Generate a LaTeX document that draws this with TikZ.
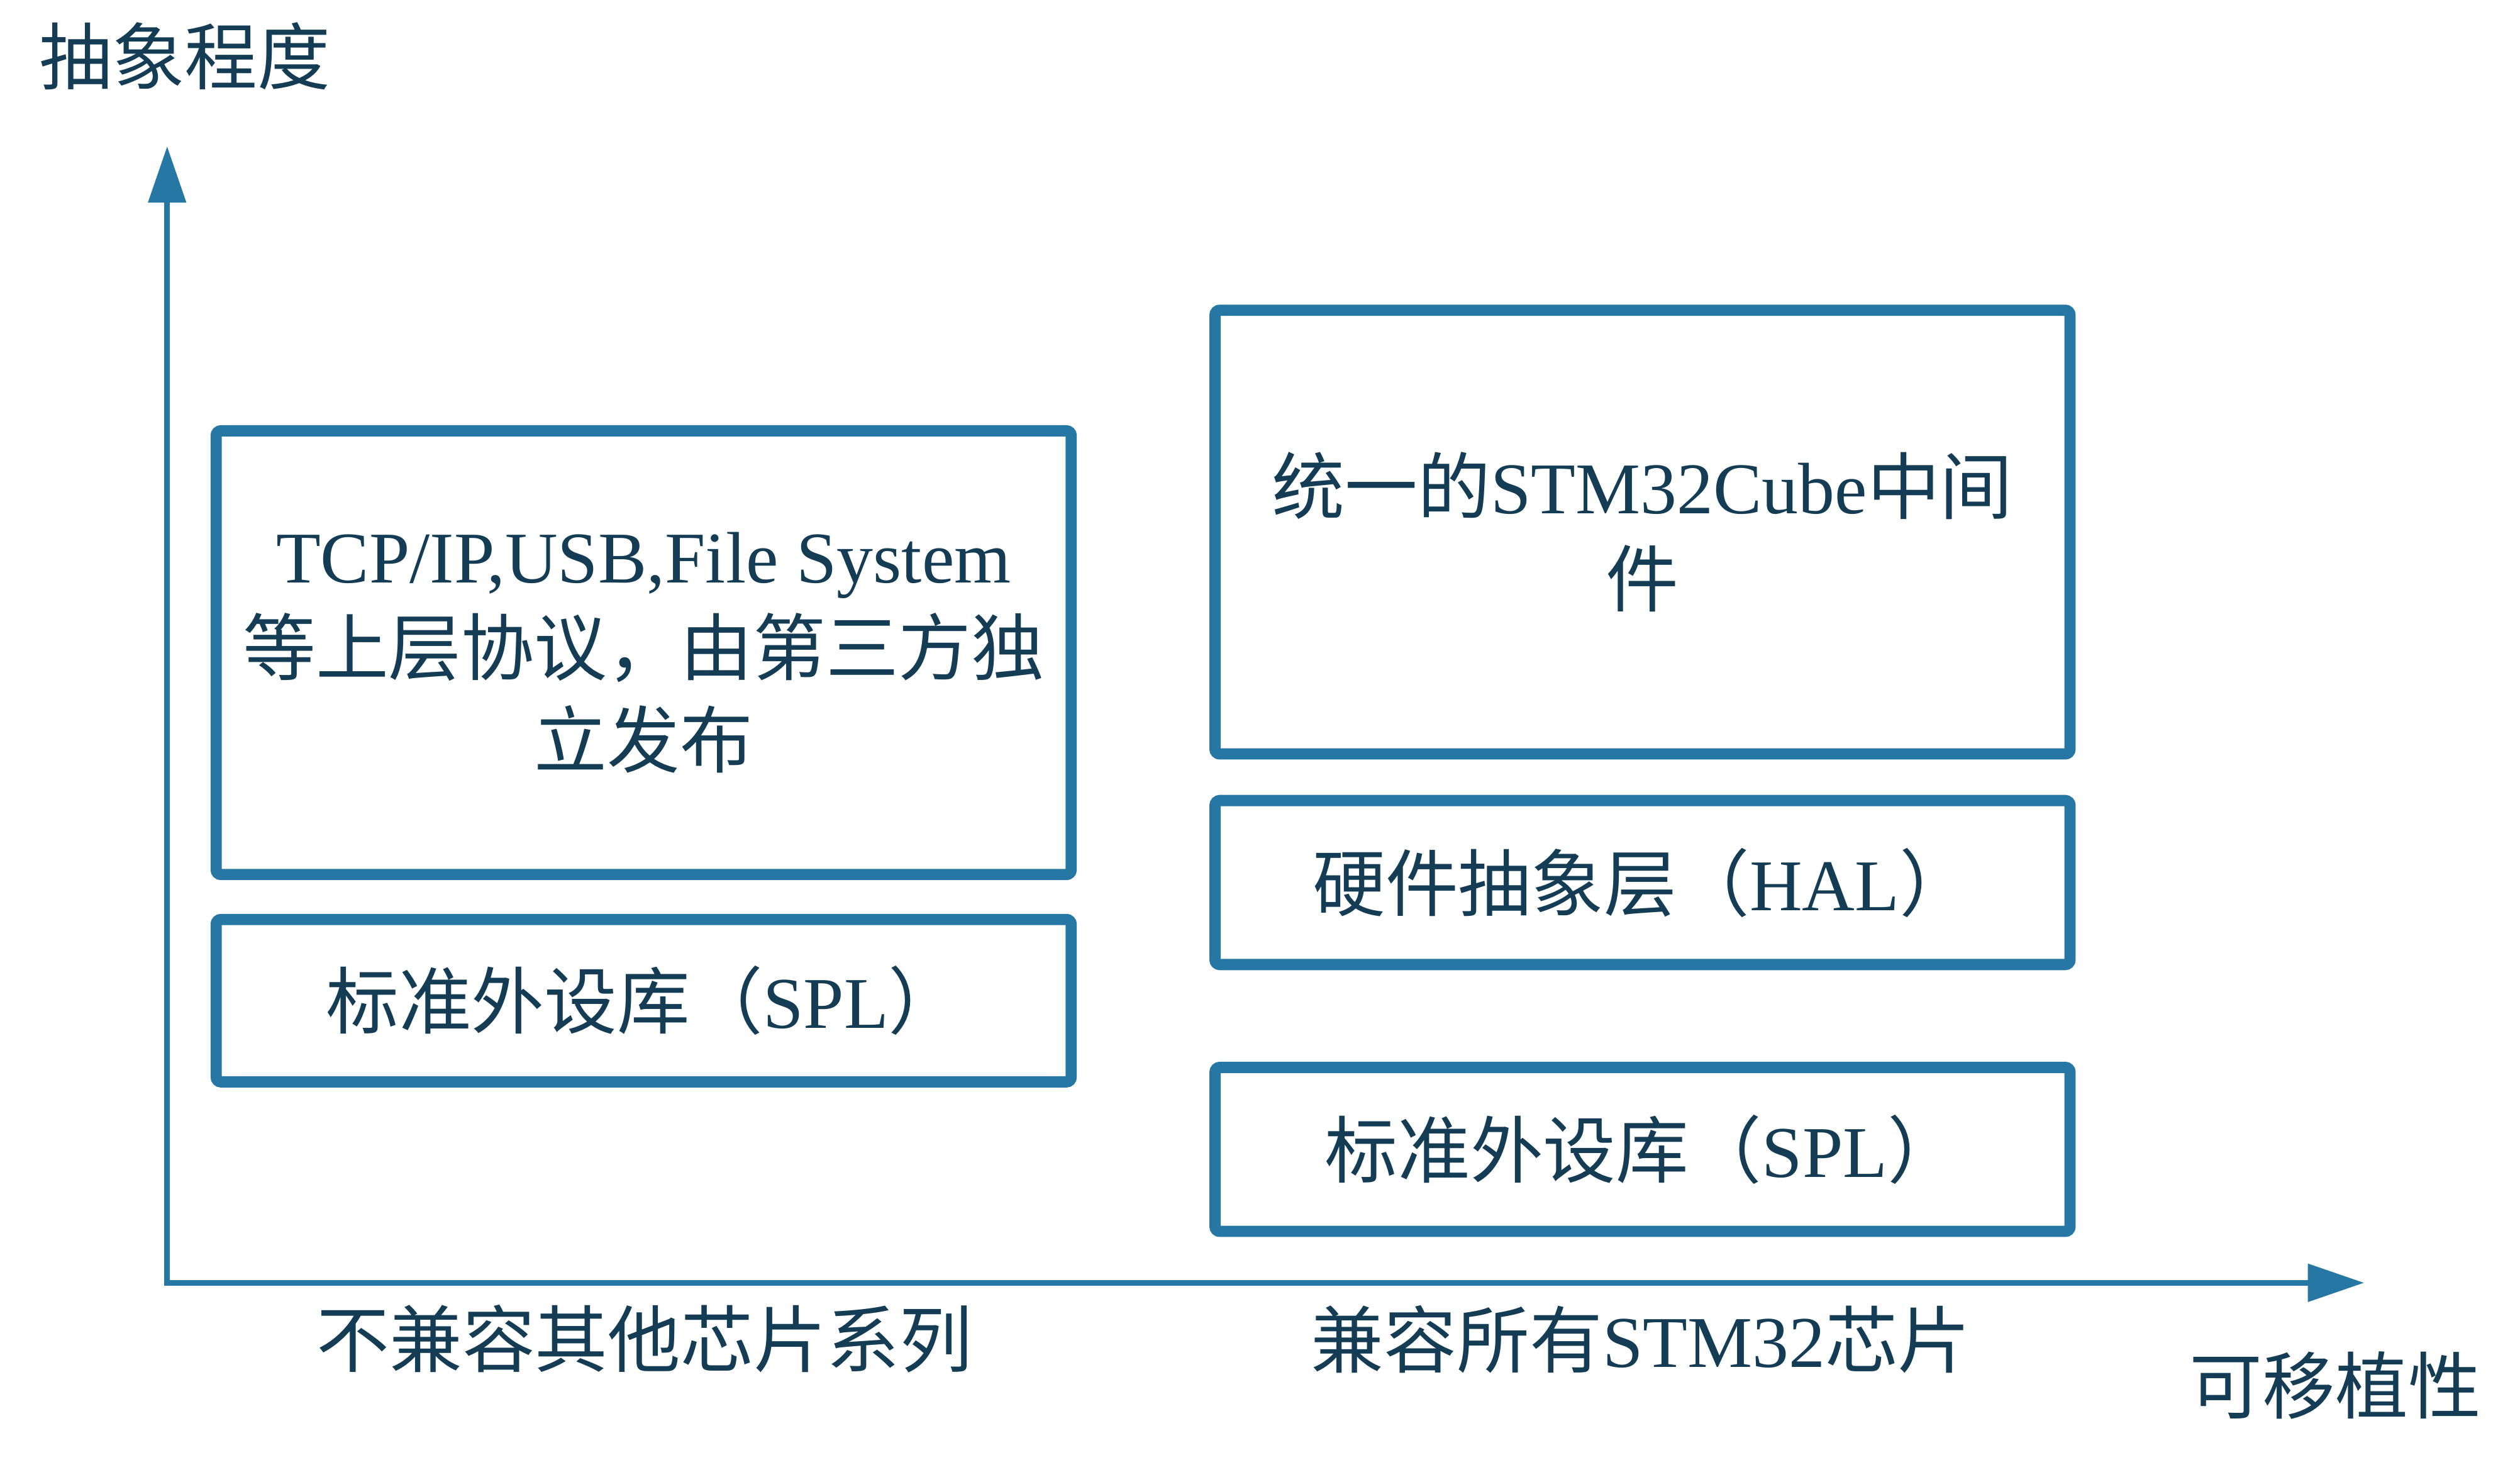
\documentclass[tikz,border=0pt]{standalone}
\usepackage{fontspec}
\setmainfont{Liberation Serif}
\newfontfamily\cjk{Noto Sans CJK SC}
\usetikzlibrary{arrows.meta}
\definecolor{axisblue}{HTML}{2677A3}
\definecolor{textnavy}{HTML}{143D55}
\newcommand{\zh}[1]{{\cjk #1}}

\begin{document}
\begin{tikzpicture}[
    layer/.style={rectangle, draw=axisblue, line width=0.07cm, rounded corners=0.03cm, minimum width=5.32cm, align=center, text=textnavy, font=\fontsize{12.9}{16.3}\selectfont, inner sep=0pt},
    axistext/.style={text=textnavy, font=\fontsize{12.9}{16.3}\selectfont, inner sep=0pt},
    axis/.style={line width=0.034cm, draw=axisblue, {Triangle[length=0.35cm,width=0.23cm]}-{Triangle[length=0.35cm,width=0.23cm]}},
]
\useasboundingbox (0,0) rectangle (15.68,9.08);

\coordinate (O) at (1.04,1.10);
\coordinate (YTIP) at (1.04,8.17);
\coordinate (XTIP) at (14.71,1.10);
\draw[axis] (YTIP) -- (O) -- (XTIP);

\node[axistext] (YLABEL) at (1.15,8.73) {\zh{抽象程度}};
\node[axistext] (XLABEL) at (14.53,0.46) {\zh{可移植性}};
\node[axistext] (LEFTCOL) at (4.01,0.75) {\zh{不兼容其他芯片系列}};
\node[axistext] (RIGHTCOL) at (10.21,0.75) {\zh{兼容所有}STM32\zh{芯片}};

\node[layer, minimum height=2.76cm] (PROTOCOLS) at (4.005,5.02) {TCP/IP,USB,File System\\\zh{等上层协议，由第三方独}\\\zh{立发布}};
\node[layer, minimum height=1.01cm] (SPLOLD) at (4.005,2.855) {\zh{标准外设库（}SPL\zh{）}};

\node[layer, minimum height=2.76cm] (MIDDLEWARE) at (10.22,5.77) {\zh{统一的}STM32Cube\zh{中间}\\\zh{件}};
\node[layer, minimum height=1.02cm] (HAL) at (10.22,3.59) {\zh{硬件抽象层（}HAL\zh{）}};
\node[layer, minimum height=1.02cm] (SPLNEW) at (10.22,1.93) {\zh{标准外设库（}SPL\zh{）}};
\end{tikzpicture}
\end{document}
